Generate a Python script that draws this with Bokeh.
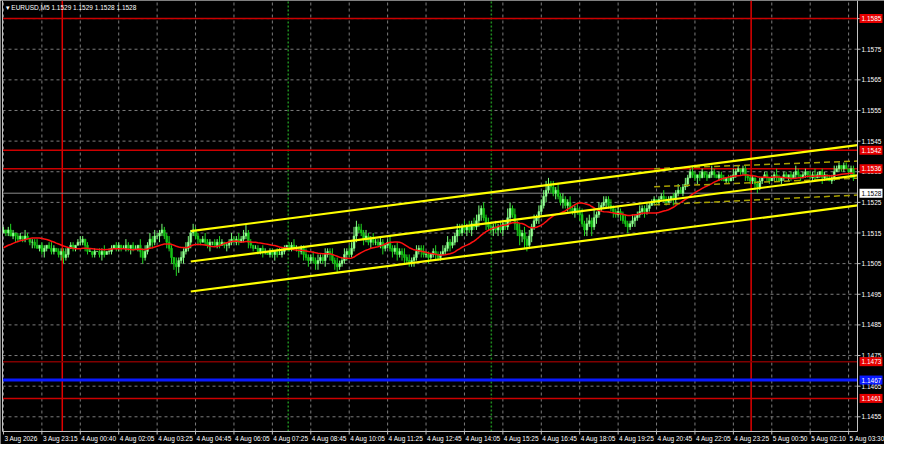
from bokeh.plotting import figure
from bokeh.models import ColumnDataSource, Range1d
from bokeh.core.properties import value
from bokeh.embed import file_html
from bokeh.resources import INLINE

# ---------------- data ----------------
symbol = "EURUSD,M5"
last_ohlc = [1.1529, 1.1529, 1.1528, 1.1528]
pip = 0.0001

# closes before the first visible bar (only feed the moving average)
pre_closes = [1.1508, 1.1507, 1.1508, 1.1509, 1.1508, 1.1507, 1.1508, 1.1509, 1.1510, 1.1509,
              1.1508, 1.1509, 1.1510, 1.1511, 1.1510, 1.1511, 1.1512, 1.1513, 1.1514, 1.1515]

closes = [
    1.1516, 1.1515, 1.1516, 1.1514, 1.1515,
    1.1514, 1.1513, 1.1514, 1.1513, 1.1514, 1.1513, 1.1512,
    1.1512, 1.1511,
    1.1510, 1.1511, 1.1509, 1.1510, 1.1511, 1.1510, 1.1509, 1.1510, 1.1509, 1.1508,
    1.1509, 1.1507, 1.1508,
    1.1510, 1.1511, 1.1510, 1.1511, 1.1512,
    1.1512, 1.1513, 1.1511,
    1.1509, 1.1509, 1.1508, 1.1509, 1.1509, 1.1508, 1.1509, 1.1508, 1.1509, 1.1509, 1.1510,
    1.1511, 1.1510, 1.1511, 1.1510, 1.1510, 1.1511, 1.1510, 1.1511, 1.1510, 1.1510, 1.1511,
    1.1509, 1.1507, 1.1509,
    1.1511, 1.1513, 1.1512, 1.1514,
    1.1514, 1.1515, 1.1516, 1.1514,
    1.1512, 1.1510,
    1.1507, 1.1505, 1.1504, 1.1506,
    1.1507, 1.1509, 1.1510, 1.1512,
    1.1515, 1.1516, 1.1514,
    1.1513, 1.1512, 1.1513, 1.1512, 1.1511, 1.1512,
    1.1512, 1.1511, 1.1512, 1.1511, 1.1512, 1.1511, 1.1511, 1.1512,
    1.1513, 1.1512, 1.1513, 1.1512, 1.1513, 1.1514, 1.1515, 1.1512,
    1.1511, 1.1510, 1.1510, 1.1509, 1.1510, 1.1509,
    1.1509, 1.1508, 1.1509, 1.1508, 1.1509, 1.1508, 1.1508, 1.1509,
    1.1510, 1.1511, 1.1510, 1.1511, 1.1510,
    1.1510, 1.1509, 1.1510, 1.1508,
    1.1507, 1.1506, 1.1507, 1.1506, 1.1505, 1.1506, 1.1507, 1.1506,
    1.1508, 1.1509, 1.1508,
    1.1506, 1.1505, 1.1504, 1.1505, 1.1506,
    1.1508, 1.1509, 1.1508, 1.1510,
    1.1514, 1.1517, 1.1516,
    1.1515, 1.1513, 1.1514, 1.1512, 1.1513, 1.1512,
    1.1512, 1.1511, 1.1512, 1.1510, 1.1511, 1.1512, 1.1510,
    1.1509, 1.1510, 1.1508, 1.1509, 1.1508, 1.1507,
    1.1506, 1.1505, 1.1506, 1.1507,
    1.1509, 1.1510, 1.1509, 1.1508,
    1.1508, 1.1507, 1.1508, 1.1509, 1.1508, 1.1507, 1.1508, 1.1509,
    1.1510, 1.1512, 1.1511, 1.1512,
    1.1514, 1.1516, 1.1515, 1.1517, 1.1516,
    1.1517, 1.1516, 1.1518, 1.1517, 1.1519,
    1.1521, 1.1523, 1.1520,
    1.1518, 1.1517, 1.1516, 1.1517, 1.1516,
    1.1517, 1.1516, 1.1518, 1.1517,
    1.1520, 1.1523, 1.1521,
    1.1518, 1.1516, 1.1514, 1.1515,
    1.1513, 1.1511, 1.1514,
    1.1517, 1.1519, 1.1520, 1.1522, 1.1524,
    1.1527, 1.1529, 1.1531, 1.1530, 1.1528, 1.1529,
    1.1527, 1.1525, 1.1526, 1.1524, 1.1525,
    1.1523, 1.1522, 1.1523, 1.1522, 1.1521,
    1.1518, 1.1516, 1.1518,
    1.1519, 1.1517, 1.1520,
    1.1521, 1.1523, 1.1524, 1.1525, 1.1526, 1.1524, 1.1523,
    1.1522, 1.1521, 1.1522, 1.1521,
    1.1519, 1.1518, 1.1517, 1.1518, 1.1519, 1.1520,
    1.1521, 1.1522, 1.1523, 1.1522, 1.1523, 1.1524,
    1.1525, 1.1526, 1.1525, 1.1526, 1.1527, 1.1526, 1.1525, 1.1526, 1.1527, 1.1526,
    1.1528, 1.1529, 1.1528, 1.1530, 1.1531,
    1.1533, 1.1535, 1.1534, 1.1533,
    1.1534, 1.1533, 1.1535, 1.1534, 1.1533, 1.1534, 1.1535, 1.1534, 1.1533, 1.1534,
    1.1533, 1.1532, 1.1533, 1.1532, 1.1533, 1.1534,
    1.1535, 1.1536, 1.1535, 1.1536, 1.1534,
    1.1533, 1.1532, 1.1533,
    1.1531, 1.1530, 1.1532,
    1.1533, 1.1534, 1.1533, 1.1532, 1.1533, 1.1534, 1.1533, 1.1532, 1.1533, 1.1534, 1.1533,
    1.1534, 1.1533, 1.1534, 1.1535, 1.1534, 1.1533, 1.1534, 1.1535, 1.1534, 1.1533, 1.1534, 1.1533, 1.1534, 1.1535,
    1.1533, 1.1534, 1.1533, 1.1532, 1.1533,
    1.1535, 1.1536, 1.1537, 1.1536, 1.1537, 1.1536, 1.1535, 1.1536,
    1.1533,
]

# wick lengths above / below each candle body, in pips
upper_wick = [
    1, 0, 1, 2, 1, 0, 1, 1, 0, 2, 1, 0, 1, 1, 2, 0, 1, 1, 0, 1, 2, 1, 0, 1, 1,
    1, 2, 0, 1, 1, 0, 1, 2, 1, 0, 1, 1, 0, 1, 0, 1, 1, 2, 0, 1, 1, 0, 1, 1, 0,
    1, 2, 1, 0, 1, 1, 0, 2, 1, 2, 1, 2, 1, 2, 1, 1, 2, 1, 1, 2, 1, 0, 2, 1, 2,
    1, 2, 2, 1, 2, 1, 1, 0, 1, 2, 1, 1, 0, 1, 1, 2, 1, 0, 1, 1, 2, 1, 1, 2, 1,
    2, 3, 1, 1, 0, 1, 1, 0, 1, 1, 0, 1, 1, 0, 1, 2, 1, 1, 0, 1, 1, 2, 1, 0, 1,
    1, 2, 1, 1, 2, 1, 2, 1, 1, 2, 1, 1, 2, 1, 2, 1, 1, 2, 1, 2, 2, 3, 2, 1, 2,
    1, 2, 1, 1, 2, 1, 1, 2, 1, 0, 1, 2, 1, 1, 2, 1, 1, 2, 1, 2, 1, 1, 2, 1, 1,
    2, 1, 1, 0, 1, 2, 1, 1, 2, 1, 2, 1, 2, 1, 2, 2, 1, 2, 1, 2, 1, 2, 2, 3, 1,
    2, 1, 2, 1, 1, 2, 1, 2, 1, 1, 3, 2, 1, 2, 1, 2, 1, 2, 1, 2, 1, 2, 1, 2, 2,
    2, 3, 2, 1, 2, 1, 2, 1, 2, 1, 1, 2, 1, 1, 2, 1, 2, 1, 2, 2, 1, 3, 1, 2, 1,
    2, 1, 1, 2, 1, 1, 2, 1, 1, 2, 1, 1, 2, 1, 1, 2, 1, 1, 2, 1, 1, 1, 0, 1, 1,
    2, 1, 1, 0, 1, 1, 2, 1, 1, 2, 1, 1, 2, 1, 0, 1, 1, 0, 1, 1, 2, 1, 0, 1, 1,
    1, 0, 1, 1, 2, 1, 1, 0, 1, 1, 0, 1, 1, 0, 1, 1, 0, 1, 1, 0, 1, 1, 2, 1, 0,
    1, 1, 0, 1, 1, 2, 1, 0, 1, 1, 0, 1, 1, 2, 1, 0, 1, 1, 0, 1, 1, 2, 1, 1, 0,
    1, 1, 0, 1, 1,
]
lower_wick = [
    0, 1, 1, 0, 1, 2, 1, 0, 1, 1, 0, 1, 2, 1, 0, 1, 1, 2, 1, 0, 1, 1, 0, 1, 2,
    2, 1, 1, 0, 1, 1, 0, 1, 1, 2, 1, 0, 1, 1, 0, 1, 2, 1, 0, 1, 1, 0, 1, 1, 1,
    0, 1, 1, 2, 1, 0, 1, 2, 2, 1, 1, 1, 2, 1, 1, 2, 1, 1, 2, 1, 2, 2, 3, 2, 1,
    2, 1, 1, 2, 1, 1, 2, 1, 0, 1, 1, 2, 1, 0, 1, 1, 0, 1, 2, 1, 1, 0, 1, 1, 0,
    1, 1, 2, 1, 1, 0, 1, 1, 2, 1, 0, 1, 1, 2, 1, 0, 1, 1, 0, 1, 1, 0, 1, 2, 1,
    2, 1, 2, 1, 1, 2, 2, 1, 1, 2, 1, 2, 1, 2, 2, 1, 1, 1, 2, 1, 1, 1, 2, 1, 1,
    2, 1, 1, 2, 1, 1, 0, 1, 2, 1, 1, 1, 2, 1, 2, 1, 2, 2, 1, 1, 1, 2, 1, 1, 2,
    1, 1, 2, 1, 1, 2, 1, 1, 0, 1, 1, 2, 1, 1, 2, 1, 1, 1, 2, 1, 2, 1, 1, 2, 2,
    1, 2, 1, 1, 2, 1, 2, 1, 2, 1, 1, 2, 1, 2, 2, 3, 2, 3, 2, 1, 2, 1, 1, 2, 1,
    1, 2, 1, 2, 1, 2, 1, 1, 2, 1, 2, 1, 1, 2, 1, 2, 1, 2, 2, 1, 3, 1, 2, 1, 1,
    1, 2, 1, 1, 2, 1, 1, 2, 1, 1, 2, 1, 1, 2, 1, 1, 1, 2, 1, 1, 0, 1, 1, 1, 0,
    1, 1, 0, 1, 2, 1, 1, 0, 1, 1, 1, 0, 1, 1, 2, 1, 0, 1, 1, 0, 1, 1, 0, 1, 1,
    0, 1, 1, 0, 1, 1, 0, 1, 1, 2, 1, 1, 1, 2, 2, 1, 1, 0, 1, 1, 0, 1, 1, 0, 1,
    1, 0, 1, 1, 0, 1, 1, 1, 0, 1, 1, 0, 1, 1, 0, 1, 2, 1, 1, 0, 1, 1, 0, 1, 1,
    1, 0, 1, 2, 1,
]

time_labels = ["3 Aug 2026", "3 Aug 23:15", "4 Aug 00:40", "4 Aug 02:05", "4 Aug 03:25",
               "4 Aug 04:45", "4 Aug 06:05", "4 Aug 07:25", "4 Aug 08:45", "4 Aug 10:05",
               "4 Aug 11:25", "4 Aug 12:45", "4 Aug 14:05", "4 Aug 15:25", "4 Aug 16:45",
               "4 Aug 18:05", "4 Aug 19:25", "4 Aug 20:45", "4 Aug 22:05", "4 Aug 23:25",
               "5 Aug 00:50", "5 Aug 02:10", "5 Aug 03:30"]
time_label_bars = [0, 16, 32, 48, 64, 80, 96, 112, 128, 144, 160, 176, 192, 208, 224,
                   240, 256, 272, 288, 304, 320, 336, 352]

price_ticks = [1.1455, 1.1465, 1.1475, 1.1485, 1.1495, 1.1505, 1.1515, 1.1525,
               1.1535, 1.1545, 1.1555, 1.1565, 1.1575, 1.1585]

red_levels = [1.1585, 1.1542, 1.1536, 1.1461]
dark_red_levels = [1.1473]
blue_levels = [1.1467]
bid_price = 1.1528

day_separator_bars = [24.5, 311.4]
session_bars = [118.6, 203.2]

channel_bars = [78, 355.7]
channel_upper = [1.15156, 1.15437]
channel_mid = [1.15057, 1.15338]
channel_lower = [1.14959, 1.15240]

inner_bars = [271, 355.7]
inner_upper = [1.15360, 1.15385]
inner_mid = [1.15301, 1.15329]
inner_lower = [1.15242, 1.15274]

ma_period = 20

# ---------------- layout ----------------
PW, PH = 884, 444
CH_L, CH_R, CH_T, CH_B = 2, 857, 4, 431          # chart area inside the canvas (px)
XS, XE = -0.4, 355.7                             # visible bars
YS, YE = 1.14502, 1.15896                        # visible prices
bpx = (XE - XS) / (CH_R - CH_L)                  # bars per pixel
ppx = (YE - YS) / (CH_B - CH_T)                  # price per pixel
FX0, FX1 = XS - CH_L * bpx, XE + (PW - CH_R) * bpx
FY0, FY1 = YS - (PH - CH_B) * ppx, YE + CH_T * ppx
FONT = "Liberation Sans"
FS = "6.5px"
AXC = "#c4c4c4"

# ---------------- derived ----------------
idx = list(range(len(closes)))
opens = [pre_closes[-1]] + closes[:-1]
allc = pre_closes + closes
n0 = len(pre_closes)
ma = [sum(allc[i - ma_period + 1:i + 1]) / ma_period for i in range(n0, len(allc))]
tops = [max(o, c) for o, c in zip(opens, closes)]
bots = [min(o, c) for o, c in zip(opens, closes)]
highs = [t + w * pip for t, w in zip(tops, upper_wick)]
lows = [b - w * pip for b, w in zip(bots, lower_wick)]

def sel(cond):
    ii = [i for i in idx if cond(i)]
    return ColumnDataSource(dict(x=ii, top=[tops[i] for i in ii], bottom=[bots[i] for i in ii],
                                 high=[highs[i] for i in ii], low=[lows[i] for i in ii]))

src_up = sel(lambda i: closes[i] >= opens[i])
src_dn = sel(lambda i: closes[i] < opens[i])

p = figure(width=PW, height=PH, x_range=Range1d(FX0, FX1), y_range=Range1d(FY0, FY1),
           x_axis_location=None, y_axis_location=None, toolbar_location=None,
           output_backend="svg", min_border=0, background_fill_color="black",
           border_fill_color="black", outline_line_color=None)
p.grid.grid_line_color = None

# grid
p.segment(x0=[XS] * len(price_ticks), x1=[XE] * len(price_ticks), y0=price_ticks, y1=price_ticks,
          line_color="#7c7c7c", line_width=1, line_dash="3 3")
p.segment(x0=time_label_bars, x1=time_label_bars, y0=[YS] * len(time_label_bars),
          y1=[FY1] * len(time_label_bars), line_color="#7c7c7c", line_width=1, line_dash="3 3")

# vertical markers
p.segment(x0=day_separator_bars, x1=day_separator_bars, y0=[YS] * 2, y1=[FY1] * 2,
          line_color="#e00000", line_width=1.5)
p.segment(x0=session_bars, x1=session_bars, y0=[YS] * 2, y1=[FY1] * 2,
          line_color="#1e8c1e", line_width=1.5, line_dash="2 2")

# horizontal levels
def hline(levels, color, width):
    p.segment(x0=[XS] * len(levels), x1=[XE] * len(levels), y0=levels, y1=levels,
              line_color=color, line_width=width)

hline(red_levels, "#cc0000", 1.5)
hline(dark_red_levels, "#800000", 1.5)
hline(blue_levels, "#0a1aff", 3)
hline([bid_price], "#8c8c8c", 1)

# candles
p.segment(x0="x", x1="x", y0="low", y1="high", source=src_up, line_color="#7cff7c", line_width=1)
p.segment(x0="x", x1="x", y0="low", y1="high", source=src_dn, line_color="#20d820", line_width=1)
p.vbar(x="x", width=0.75, top="top", bottom="bottom", source=src_up,
       fill_color="#a6ffa6", line_color="#80ff80", line_width=0.6)
p.vbar(x="x", width=0.75, top="top", bottom="bottom", source=src_dn,
       fill_color="#18c018", line_color="#12d012", line_width=0.6)

# moving average
p.line(idx, ma, line_color="#ff1010", line_width=1.5)

# inner dashed channel
for ys in (inner_upper, inner_mid, inner_lower):
    p.line(inner_bars, ys, line_color="#a8a000", line_width=1.5, line_dash="6 4")

# regression channel
for ys in (channel_upper, channel_mid, channel_lower):
    p.line(channel_bars, ys, line_color="#ffff00", line_width=2.2)

# chart borders
p.segment(x0=[XS, XE, XS], x1=[XS, XE, XE], y0=[YS, YS, YS], y1=[FY1, FY1, YS],
          line_color=AXC, line_width=1)

# right price scale
nt = len(price_ticks)
p.segment(x0=[XE] * nt, x1=[XE + 3 * bpx] * nt, y0=price_ticks, y1=price_ticks,
          line_color=AXC, line_width=1)
p.text(x=[XE + 4 * bpx] * nt, y=price_ticks, text=[f"{v:.4f}" for v in price_ticks],
       text_align="left", text_baseline="middle", text_color="white",
       text_font=value(FONT), text_font_size=value(FS))

# time scale
ntl = len(time_label_bars)
p.segment(x0=time_label_bars, x1=time_label_bars, y0=[YS] * ntl, y1=[YS - 3 * ppx] * ntl,
          line_color=AXC, line_width=1)
p.text(x=time_label_bars, y=[YS - 3.5 * ppx] * ntl, text=time_labels, x_offset=1,
       text_align="left", text_baseline="top", text_color="white",
       text_font=value(FONT), text_font_size=value(FS))

# price boxes on the right scale
boxes = [(lv, "#e60000", "white") for lv in red_levels + dark_red_levels] + \
        [(lv, "#0a1aff", "white") for lv in blue_levels] + [(bid_price, "white", "black")]
p.rect(x=[XE + 13.5 * bpx] * len(boxes), y=[b[0] for b in boxes], width=23, height=9,
       width_units="screen", height_units="screen",
       fill_color=[b[1] for b in boxes], line_color=None)
p.text(x=[XE + 4 * bpx] * len(boxes), y=[b[0] for b in boxes],
       text=[f"{b[0]:.4f}" for b in boxes], text_color=[b[2] for b in boxes],
       text_align="left", text_baseline="middle",
       text_font=value(FONT), text_font_size=value(FS))

# title
title = "\u25be " + symbol + "  " + " ".join(f"{v:.4f}" for v in last_ohlc)
p.text(x=[XS + 3 * bpx], y=[FY1 - 3 * ppx], text=[title], text_align="left",
       text_baseline="top", text_color="white", text_font=value(FONT), text_font_size=value(FS))

open("out.html", "w").write(file_html(p, INLINE))
